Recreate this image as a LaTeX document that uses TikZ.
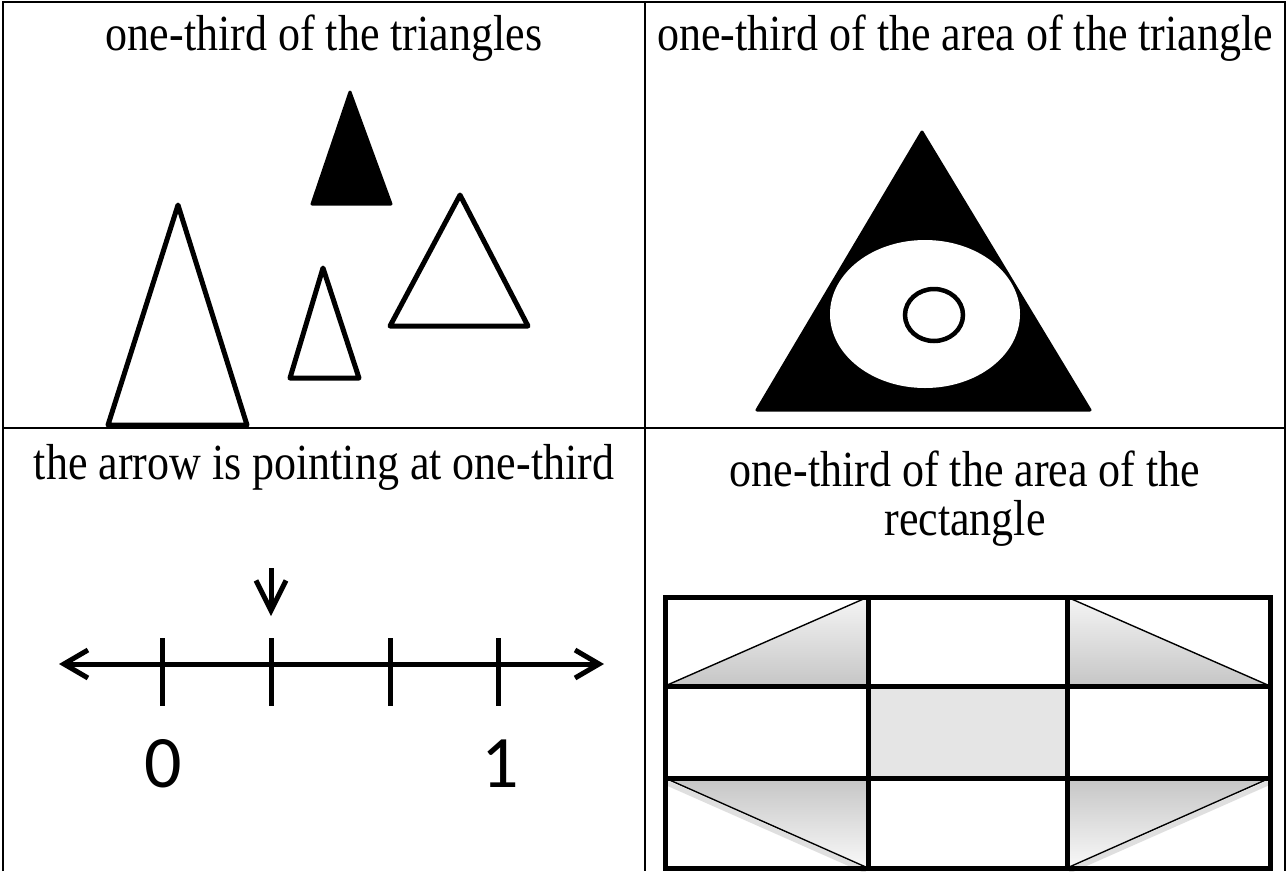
\documentclass[tikz,border=0pt]{standalone}
\usepackage{fontspec}
\setmainfont{Liberation Serif}
\newfontfamily\calib{Carlito}
\usetikzlibrary{arrows.meta}
\newcommand{\tallt}[1]{\scalebox{1}[1.15]{#1}}
\begin{document}
\begin{tikzpicture}[x=1pt,y=-1pt,
  title/.style={font=\fontsize{44}{50}\selectfont, anchor=base, inner sep=0pt},
  numlabel/.style={font=\calib\fontsize{74}{74}\selectfont, inner sep=0pt},
  tline/.style={line width=2.5pt},
  outl/.style={draw=black, line width=5pt, line join=round, fill=white},
  solid/.style={fill=black, draw=black, line width=3pt, line join=round},
  grid/.style={line width=5pt, line cap=rect},
  hyp/.style={line width=1.4pt},
  ghost/.style={line width=5pt, draw=gray!25},
  tick/.style={line width=5pt}
]
\useasboundingbox (0,0) rectangle (1288,871);
\fill[white] (0,0) rectangle (1288,871);

% table
\draw[tline] (3,871) -- (3,2) -- (1285,2) -- (1285,871);
\draw[tline] (3,428) -- (1285,428);
\draw[tline] (645,2) -- (645,871);

% titles
\node[title] (t1) at (324,50) {\tallt{one-third of the triangles}};
\node[title] (t2) at (965,50) {\tallt{one-third of the area of the triangle}};
\node[title] (t3) at (324,479) {\tallt{the arrow is pointing at one-third}};
\node[title] (t4) at (965,486) {\tallt{one-third of the area of the}};
\node[title] (t5) at (965,535) {\tallt{rectangle}};

% top-left triangles
\draw[outl] (178,205) -- (108,425) -- (247,425) -- cycle;
\draw[solid] (350,92) -- (312,204) -- (391,204) -- cycle;
\draw[outl] (323,268) -- (290,378) -- (359,378) -- cycle;
\draw[outl] (460,195) -- (390,326) -- (528,326) -- cycle;

% top-right triangle with ellipse
\draw[solid] (922,132) -- (757,410) -- (1090,410) -- cycle;
\fill[white] (925,314) ellipse [x radius=95, y radius=74];
\draw[line width=4.5pt] (934,315) ellipse [x radius=29, y radius=26];

% number line
\coordinate (L) at (59,664);
\coordinate (R) at (604,664);
\draw[line width=5pt, {Straight Barb[length=24pt,width=28pt]}-{Straight Barb[length=24pt,width=28pt]}] (L) -- (R);
\foreach \x in {162,271,390,498} \draw[tick] (\x,638) -- (\x,706);
\coordinate (A1) at (271,568);
\coordinate (A2) at (271,616);
\draw[line width=5pt, -{Straight Barb[length=30pt,width=30pt]}] (A1) -- (A2);
\node[numlabel] (n0) at (163,764) {0};
\node[numlabel] (n1) at (500,764) {1};

% rectangle grid: shaded triangles
\shade[top color=gray!8, bottom color=gray!45] (665,686) -- (868,597) -- (868,686) -- cycle;
\shade[top color=gray!8, bottom color=gray!45] (1067,597) -- (1067,686) -- (1270,686) -- cycle;
\shade[top color=gray!45, bottom color=gray!5] (665,778) -- (868,778) -- (868,868) -- cycle;
\shade[top color=gray!45, bottom color=gray!5] (1067,778) -- (1270,778) -- (1067,868) -- cycle;
\fill[gray!20] (868,686) rectangle (1067,778);
% soft shadows of lower hypotenuses
\draw[ghost] (667,783) -- (866,871);
\draw[ghost] (1268,783) -- (1069,871);
% hypotenuses
\draw[hyp] (665,686) -- (868,597);
\draw[hyp] (1067,597) -- (1270,686);
\draw[hyp] (665,778) -- (868,868);
\draw[hyp] (1270,778) -- (1067,868);
% grid lines
\draw[grid] (665,597) rectangle (1270,868);
\draw[grid] (665,686) -- (1270,686);
\draw[grid] (665,778) -- (1270,778);
\draw[grid] (868,597) -- (868,868);
\draw[grid] (1067,597) -- (1067,868);
\end{tikzpicture}
\end{document}
